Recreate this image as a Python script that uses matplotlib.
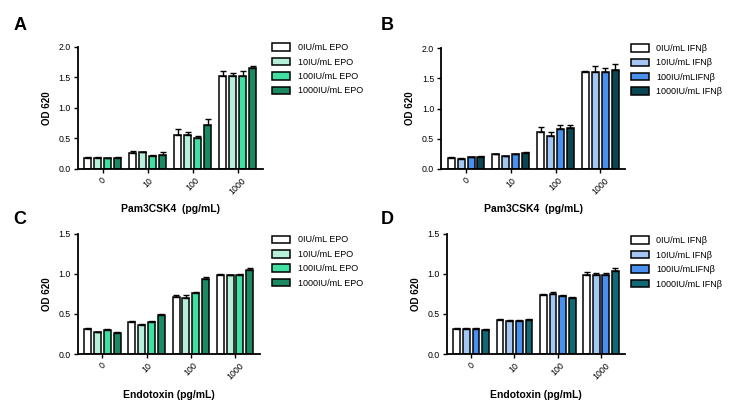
import matplotlib
matplotlib.use("Agg")
import matplotlib.pyplot as plt
import numpy as np

plt.rcParams['font.family'] = ['Liberation Sans', 'DejaVu Sans']

doses = ["0", "10", "100", "1000"]
epo_labels = ["0IU/mL EPO", "10IU/mL EPO", "100IU/mL EPO", "1000IU/mL EPO"]
ifn_labels = ["0IU/mL IFN\u03b2", "10IU/mL IFN\u03b2", "100IU/mLIFN\u03b2", "1000IU/mL IFN\u03b2"]

# rows = treatment series, columns = dose groups
a_vals = [[0.18, 0.26, 0.56, 1.53],
          [0.18, 0.27, 0.56, 1.53],
          [0.17, 0.21, 0.50, 1.52],
          [0.18, 0.23, 0.72, 1.65]]
a_err = [[0.01, 0.04, 0.10, 0.08],
         [0.01, 0.01, 0.05, 0.04],
         [0.01, 0.01, 0.04, 0.08],
         [0.01, 0.05, 0.09, 0.03]]

b_vals = [[0.18, 0.24, 0.61, 1.61],
          [0.17, 0.21, 0.54, 1.60],
          [0.19, 0.24, 0.66, 1.61],
          [0.20, 0.27, 0.68, 1.64]]
b_err = [[0.01, 0.01, 0.09, 0.01],
         [0.01, 0.01, 0.07, 0.10],
         [0.01, 0.01, 0.07, 0.06],
         [0.01, 0.01, 0.05, 0.09]]

c_vals = [[0.31, 0.40, 0.71, 0.99],
          [0.27, 0.36, 0.70, 0.98],
          [0.30, 0.40, 0.76, 0.98],
          [0.26, 0.49, 0.94, 1.05]]
c_err = [[0.01, 0.01, 0.03, 0.01],
         [0.01, 0.02, 0.04, 0.01],
         [0.01, 0.01, 0.01, 0.02],
         [0.01, 0.01, 0.02, 0.02]]

d_vals = [[0.31, 0.43, 0.74, 0.98],
          [0.31, 0.41, 0.75, 0.99],
          [0.31, 0.41, 0.72, 0.99],
          [0.30, 0.42, 0.70, 1.03]]
d_err = [[0.01, 0.01, 0.01, 0.04],
         [0.02, 0.01, 0.02, 0.02],
         [0.01, 0.01, 0.02, 0.02],
         [0.01, 0.02, 0.01, 0.04]]

epo_colors = ["#ffffff", "#b6f0da", "#3fe0a2", "#1a8a62"]
ifn_colors_b = ["#ffffff", "#a3c6f2", "#4a90ee", "#0b4752"]
ifn_colors_d = ["#ffffff", "#a3c6f2", "#4a90ee", "#0f6a76"]

fig = plt.figure(figsize=(7.4, 4.19), dpi=100)

panels = [
    ("A", [0.105, 0.597, 0.250, 0.291], a_vals, a_err, epo_colors, epo_labels, 2.0, [0, 0.5, 1.0, 1.5, 2.0], "Pam3CSK4  (pg/mL)", (0.368, 0.897)),
    ("B", [0.596, 0.597, 0.249, 0.288], b_vals, b_err, ifn_colors_b, ifn_labels, 2.0, [0, 0.5, 1.0, 1.5, 2.0], "Pam3CSK4  (pg/mL)", (0.853, 0.895)),
    ("C", [0.105, 0.155, 0.246, 0.287], c_vals, c_err, epo_colors, epo_labels, 1.5, [0, 0.5, 1.0, 1.5], "Endotoxin (pg/mL)", (0.368, 0.438)),
    ("D", [0.604, 0.155, 0.241, 0.287], d_vals, d_err, ifn_colors_d, ifn_labels, 1.5, [0, 0.5, 1.0, 1.5], "Endotoxin (pg/mL)", (0.853, 0.436)),
]
letter_pos = {"A": (0.018, 0.94), "B": (0.514, 0.94), "C": (0.018, 0.475), "D": (0.514, 0.475)}

pitch = 0.222
width = 0.156
x = np.arange(len(doses))
for letter, rect, vals, errs, colors, labels, ymax, yticks, xlabel, legpos in panels:
    ax = fig.add_axes(rect)
    handles = []
    for i in range(4):
        pos = x + (i - 1.5) * pitch
        h = ax.bar(pos, vals[i], width, color=colors[i], edgecolor="black", linewidth=1.1,
                   yerr=[np.zeros(4), errs[i]], capsize=2.2,
                   error_kw=dict(ecolor="black", elinewidth=1.0, capthick=1.0), label=labels[i], zorder=2)
        handles.append(h)
    ax.set_xlim(-0.56, 3.56)
    ax.set_ylim(0, ymax)
    ax.set_yticks(yticks)
    ax.set_yticklabels([f"{t:.1f}" for t in yticks], fontsize=6.3)
    ax.set_xticks(x)
    ax.set_xticklabels(doses, rotation=45, fontsize=6.3, ha="center")
    ax.spines['top'].set_visible(False)
    ax.spines['right'].set_visible(False)
    ax.spines['left'].set_linewidth(1.3)
    ax.spines['bottom'].set_linewidth(1.3)
    ax.tick_params(axis='both', length=3, width=1.0, pad=2)
    ax.set_ylabel("OD 620", fontsize=7, fontweight="bold", labelpad=5)
    ax.set_xlabel(xlabel, fontsize=7.5, fontweight="bold", labelpad=6)
    fig.legend(handles=handles, labels=labels, loc="upper left", bbox_to_anchor=legpos,
               bbox_transform=fig.transFigure, frameon=False, fontsize=6.5,
               handlelength=2.0, handleheight=0.9, handletextpad=0.8, labelspacing=0.6,
               borderpad=0, borderaxespad=0)
    fig.text(*letter_pos[letter], letter, fontsize=13, fontweight="bold", ha="left", va="center")

fig.savefig("out.png", dpi=100)
